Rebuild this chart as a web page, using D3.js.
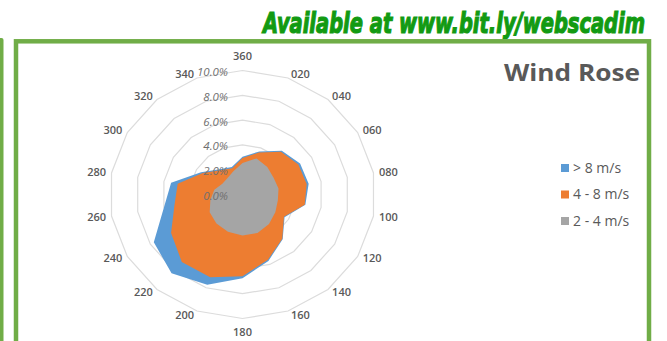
<!DOCTYPE html>
<html>
<head>
<meta charset="utf-8">
<script src="https://cdn.jsdelivr.net/npm/d3@7"></script>
<style>
  html, body { margin: 0; padding: 0; background: #fff; }
  svg { display: block; }
</style>
</head>
<body>
<svg id="chart" width="667" height="341"></svg>
<script>
// wind directions (categories), clockwise from north
const directions = ['360', '020', '040', '060', '080', '100', '120', '140', '160',
                    '180', '200', '220', '240', '260', '280', '300', '320', '340'];

// cumulative frequency (%) per direction
const above8 = [3.05, 3.7, 4.6, 5.0, 5.05, 4.8, 3.65, 4.7, 5.7,
                6.75, 7.75, 8.3, 7.7, 6.0, 5.45, 3.6, 2.65, 2.35];
const from4to8 = [2.95, 3.6, 4.5, 4.85, 4.9, 4.75, 3.6, 4.65, 5.6,
                  6.6, 7.1, 7.1, 6.2, 5.2, 4.95, 3.45, 2.55, 2.25];
const from2to4 = [2.55, 3.1, 2.9, 2.7, 2.75, 2.7, 2.85, 3.1, 3.3,
                  3.3, 3.2, 3.05, 2.85, 2.45, 2.15, 1.75, 1.75, 2.0];

const seriesNames = ['> 8 m/s', '4 - 8 m/s', '2 - 4 m/s'];
const seriesColors = ['#5b9bd5', '#ed7d31', '#a5a5a5'];
const ringTicks = [0, 2, 4, 6, 8, 10];

const svg = d3.select('#chart');
const cx = 242.5, cy = 194.5;

// screenshot is stretched a bit horizontally, so two radial scales
const rX = d3.scaleLinear().domain([0, 10]).range([0, 133]);
const rY = d3.scaleLinear().domain([0, 10]).range([0, 124]);
const angle = d3.scalePoint().domain(directions).range([0, 2 * Math.PI * (1 - 1 / directions.length)]);

function pt(dir, v) {
    const a = angle(dir);
    return [cx + rX(v) * Math.sin(a), cy - rY(v) * Math.cos(a)];
}

const polygon = d3.line().curve(d3.curveLinearClosed);

// banner text above the frame
svg.append('text')
    .attr('x', 645).attr('y', 33)
    .attr('text-anchor', 'end')
    .attr('textLength', 382)
    .attr('lengthAdjust', 'spacingAndGlyphs')
    .style('font-family', '"Liberation Sans Narrow", "DejaVu Sans Condensed", sans-serif')
    .style('font-weight', 'bold')
    .style('font-style', 'italic')
    .style('font-size', '29px')
    .attr('fill', '#129a12')
    .attr('stroke', '#129a12')
    .attr('stroke-width', 1.2)
    .text('Available at www.bit.ly/webscadim');

// green frames
svg.append('rect')
    .attr('x', -3).attr('y', 38).attr('width', 6.5).attr('height', 320)
    .attr('rx', 2).attr('fill', '#70ad47');
svg.append('rect')
    .attr('x', 16).attr('y', 41.3).attr('width', 633).attr('height', 330)
    .attr('fill', '#fff').attr('stroke', '#70ad47').attr('stroke-width', 4.5);

// gridline rings
svg.append('g').selectAll('path')
    .data(ringTicks.slice(1))
    .join('path')
    .attr('d', t => polygon(directions.map(d => pt(d, t))))
    .attr('fill', 'none')
    .attr('stroke', '#dcdcdc')
    .attr('stroke-width', 1.2);

// filled areas, largest first
const seriesData = [above8, from4to8, from2to4];
svg.append('g').selectAll('path')
    .data(seriesData)
    .join('path')
    .attr('d', vals => polygon(directions.map((d, i) => pt(d, vals[i]))))
    .attr('fill', (d, i) => seriesColors[i]);

// category labels around the rose
const labelGap = 4, halfW = 11;
svg.append('g').selectAll('text')
    .data(directions)
    .join('text')
    .attr('x', d => {
        const a = angle(d), s = Math.sin(a);
        const side = Math.abs(s) < 0.01 ? 0 : Math.sign(s);
        return pt(d, 10)[0] + s * labelGap + side * halfW;
    })
    .attr('y', d => {
        const a = angle(d), c = Math.cos(a);
        const vert = Math.abs(Math.sin(a)) < 0.01 ? 10 : 0;
        return pt(d, 10)[1] - c * labelGap - Math.sign(c) * vert;
    })
    .attr('dy', '0.35em')
    .attr('text-anchor', 'middle')
    .style('font-family', '"Open Sans", sans-serif')
    .style('font-size', '11px')
    .style('font-weight', 600)
    .attr('fill', '#595959')
    .text(d => d);

// value axis labels
svg.append('g').selectAll('text')
    .data(ringTicks)
    .join('text')
    .attr('x', cx - 14.5)
    .attr('y', t => cy - rY(t) + 1.5)
    .attr('dy', '0.35em')
    .attr('text-anchor', 'end')
    .style('font-family', '"Open Sans", sans-serif')
    .style('font-size', '11.5px')
    .style('font-style', 'italic')
    .attr('fill', '#6f6f6f')
    .text(t => d3.format('.1f')(t) + '%');

// title
svg.append('text')
    .attr('x', 640).attr('y', 81)
    .attr('text-anchor', 'end')
    .attr('textLength', 136)
    .attr('lengthAdjust', 'spacingAndGlyphs')
    .style('font-family', '"Open Sans", sans-serif')
    .style('font-size', '23px')
    .style('font-weight', 'bold')
    .attr('fill', '#595959')
    .text('Wind Rose');

// legend
const legend = svg.append('g').selectAll('g')
    .data(seriesNames)
    .join('g')
    .attr('transform', (d, i) => `translate(561, ${168 + i * 26.5})`);
legend.append('rect')
    .attr('x', 0).attr('y', -4).attr('width', 8).attr('height', 8)
    .attr('fill', (d, i) => seriesColors[i]);
legend.append('text')
    .attr('x', 12).attr('y', 0).attr('dy', '0.35em')
    .style('font-family', '"Open Sans", sans-serif')
    .style('font-size', '14px')
    .attr('fill', '#595959')
    .text(d => d);
</script>
</body>
</html>
